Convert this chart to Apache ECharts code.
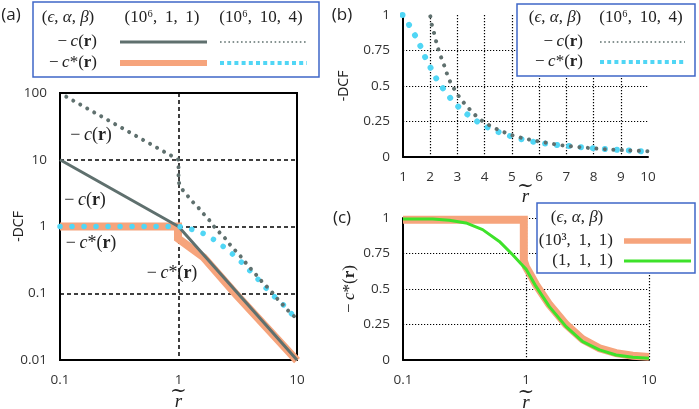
<!DOCTYPE html>
<html><head><meta charset="utf-8">
<script src="https://cdn.jsdelivr.net/npm/echarts@6/dist/echarts.min.js"></script>
<style>html,body{margin:0;padding:0;background:#fff}#c{width:699px;height:409px}</style>
</head><body><div id="c"></div>
<script>
// ---------- DATA ----------
// panel (a) (log-log), (ε,α,β) = (10^6,1,1)
const cSolid = [[0.1,10],[1,1],[10,0.01]];                       // −c(r)
const cStarOrangeA = [[0.1,1],[0.99,1],[0.99,0.66],[1.63,0.345],[3,0.1],[10,0.0098]]; // −c*(r)
// (ε,α,β) = (10^6,10,4), shared by panels (a) and (b)
const cDotted = [[0.113,88],[0.96,10.4],[1.0,10],[1.0,4.7],[1.06,3.7],[1.19,2.9],[1.31,2.36],[1.47,1.92],[1.62,1.56],[1.83,1.23],
  [2.02,0.97],[2.08,0.91],[2.17,0.854],[2.24,0.795],[2.33,0.736],[2.45,0.678],[2.55,0.624],[2.65,0.565],[2.76,0.518],[2.92,0.466],
  [3.09,0.416],[3.29,0.369],[3.5,0.325],[3.72,0.282],[3.96,0.247],[4.24,0.216],[4.51,0.19],[4.79,0.169],[5.08,0.148],[5.37,0.134],
  [5.66,0.122],[5.96,0.111],[6.3,0.099],[6.6,0.089],[6.92,0.08],[7.23,0.074],[7.56,0.068],[7.87,0.063],[8.18,0.058],[8.49,0.054],
  [8.82,0.051],[9.13,0.048],[9.45,0.045],[9.74,0.043],[10,0.041]];
const cStarDotted = [[0.1,1],[1.0,1],[1.04,0.993],[1.25,0.922],[1.47,0.847],[1.68,0.765],[1.86,0.682],[2.08,0.605],[2.29,0.529],
  [2.58,0.454],[2.85,0.388],[3.19,0.325],[3.56,0.271],[3.93,0.225],[4.34,0.188],[4.77,0.157],[5.22,0.131],[5.69,0.111],[6.15,0.096],
  [6.6,0.086],[7.03,0.078],[7.5,0.07],[7.97,0.062],[8.44,0.056],[8.92,0.05],[9.39,0.045],[9.84,0.039],[10,0.037]];
// panel (c)
const cStarC1 = [[0.1,0.988],[0.96,0.988],[0.96,0.7],[1.0,0.655],[1.065,0.615],[1.206,0.53],[1.549,0.39],[2.117,0.25],
  [2.893,0.145],[3.954,0.083],[5.4,0.048],[7.38,0.03],[10,0.022]];   // (10^3,1,1)
const cStarC2 = [[0.1,0.993],[0.174,0.993],[0.238,0.984],[0.325,0.965],[0.444,0.918],[0.607,0.835],[0.779,0.741],[0.91,0.678],
  [1,0.64],[1.206,0.518],[1.549,0.376],[2.117,0.235],[2.893,0.129],[3.954,0.071],[5.4,0.035],[7.38,0.019],[10,0.012]]; // (1,1,1)
// tick labels
const aXTicks = ['0.1','1','10'];
const aYTicks = ['0.01','0.1','1','10','100'];
const bXTicks = ['1','2','3','4','5','6','7','8','9','10'];
const bcYTicks = ['0','0.25','0.5','0.75','1'];
const cXTicks = ['0.1','1','10'];

// ---------- STYLE ----------
const GRAY='#5f706e', ORANGE='#f6a47c', CYAN='#50d6f5', GREEN='#3ee22a', BLUE='#3f67c8';
const SERIF='"Liberation Serif","DejaVu Serif",serif';
const SANS='"Open Sans","Liberation Sans",sans-serif';
const TXT='#222';
function rich(fs, key){
  const k = key||'fill';
  const o = (extra)=>Object.assign({fontFamily:SERIF,fontSize:fs,[k]:TXT}, extra);
  return {n:o({}), i:o({fontStyle:'italic'}), b:o({fontWeight:'bold'}), s:o({fontSize:Math.round(fs*0.75)})};
}
const lab = arr => (v => { let best=''; let d=1e9; arr.forEach(t=>{const x=parseFloat(t); const dd=Math.abs(Math.log(x)-Math.log(v)); if(dd<d){d=dd;best=t;}}); return best;});
const labLin = arr => (v => { let best=''; let d=1e9; arr.forEach(t=>{const dd=Math.abs(parseFloat(t)-v); if(dd<d){d=dd;best=t;}}); return best;});
const axisLabel = (fmt)=>({color:'#333',fontFamily:SANS,fontSize:13.5,margin:13,formatter:fmt});
const blackLine = {show:true,onZero:false,lineStyle:{color:'#000',width:2}};
const xName = {name:'{t|~}\n{r|r}', nameLocation:'middle', nameGap:22, nameMoveOverlap:false,
  nameTextStyle:{rich:{t:{fontFamily:'"DejaVu Serif",serif',fontSize:20,lineHeight:6,color:TXT},
                       r:{fontFamily:SERIF,fontStyle:'italic',fontSize:19,lineHeight:13,color:TXT}}}};

const chart = echarts.init(document.getElementById('c'));
const cS = '{n|−\u2009}{i|c}{n|(}{b|r}{n|)}';
const cStar = '{n|−\u2009}{i|c}{n|*(}{b|r}{n|)}';
const eab = '{n|(}{i|ϵ}{n|, }{i|α}{n|, }{i|β}{n|)}';
const sp = ', \u2009';

function txt(x,y,text,align,fs){
  return {type:'text',x:x,y:y,z:100,style:{text:text,rich:rich(fs||17),align:align||'center',verticalAlign:'middle',
    textAlign:align||'center',textVerticalAlign:'middle',fill:TXT,font:(fs||17)+'px '+SERIF}};
}
function plain(x,y,text){
  return {type:'text',x:x,y:y,z:100,style:{text:text,align:'center',verticalAlign:'middle',textAlign:'center',
    textVerticalAlign:'middle',fill:TXT,font:'17px '+SANS}};
}
function seg(x1,x2,y,color,w,dash,cap){
  return {type:'line',z:100,shape:{x1:x1,y1:y,x2:x2,y2:y},style:{stroke:color,lineWidth:w,lineDash:dash||null,lineCap:cap||'butt'}};
}
function box(x,y,w,h){
  return {type:'rect',z:99,shape:{x:x,y:y,width:w,height:h},style:{fill:'#fff',stroke:BLUE,lineWidth:1.5}};
}

const graphics = [
  plain(11,15,'(a)'), plain(342,15,'(b)'), plain(342,218,'(c)'),
  // legend (a)
  box(33,2,286,75),
  txt(68,18,eab,'center'), txt(162,18,'{n|(10⁶'+sp+'1'+sp+'1)}','center'), txt(261,18,'{n|(10⁶'+sp+'10'+sp+'4)}','center'),
  txt(97,42,cS,'right'), txt(97,63,cStar,'right'),
  seg(120,207,42,GRAY,3), seg(220,306,42,GRAY,1.6,[1.6,2.6]),
  seg(120,207,63,ORANGE,6), seg(220,307,63,CYAN,4,[4,3.2]),
  // legend (b)
  box(517,4,178,72),
  txt(555,18,eab,'center'), txt(641,18,'{n|(10⁶'+sp+'10'+sp+'4)}','center'),
  txt(583,42,cS,'right'), txt(583,62,cStar,'right'),
  seg(600,685,42,GRAY,1.6,[1.6,2.6]), seg(600,686,62,CYAN,4,[4,3.2]),
  // legend (c)
  box(537,203,158,70),
  txt(577,218,eab,'center'), txt(613,241,'{n|(10³'+sp+'1'+sp+'1)}','right'), txt(613,261,'{n|(1'+sp+'1'+sp+'1)}','right'),
  seg(624,691,241,ORANGE,5.5), seg(624,691,261,GREEN,3),
  // annotations (a)
  txt(91,135,cS,'center',18), txt(85,200,cS,'center',18), txt(91,243,cStar,'center',18), txt(172,273,cStar,'center',18)
];

const gridBase = {containLabel:false, outerBoundsMode:'none'};
chart.setOption({
  animation:false,
  backgroundColor:'#fff',
  grid:[
    Object.assign({left:60,top:93,width:237,height:267,show:true,borderColor:'#000',borderWidth:2},gridBase),
    Object.assign({left:403,top:15,width:245,height:142},gridBase),
    Object.assign({left:403,top:218,width:246,height:142},gridBase)
  ],
  xAxis:[
    Object.assign({gridIndex:0,type:'log',logBase:10,min:0.1,max:10,axisLine:blackLine,axisTick:{show:false},
      axisLabel:axisLabel(lab(aXTicks)),
      splitLine:{show:true,showMinLine:false,showMaxLine:false,lineStyle:{color:'#000',width:1.5,type:[4,3]}}},xName,{nameGap:29}),
    Object.assign({gridIndex:1,type:'value',min:1,max:10,interval:1,axisLine:blackLine,axisTick:{show:false},
      axisLabel:axisLabel(labLin(bXTicks)),
      splitLine:{show:true,showMinLine:false,showMaxLine:false,lineStyle:{color:'#000',width:1.2,type:[1.2,1.8]}}},xName,{nameGap:27}),
    Object.assign({gridIndex:2,type:'log',logBase:10,min:0.1,max:10,axisLine:blackLine,axisTick:{show:false},
      axisLabel:axisLabel(lab(cXTicks)),
      splitLine:{show:true,showMinLine:false,showMaxLine:true,lineStyle:{color:'#000',width:1.2,type:[1.2,1.8]}}},xName,{nameGap:30})
  ],
  yAxis:[
    {gridIndex:0,type:'log',logBase:10,min:0.01,max:100,axisLine:blackLine,axisTick:{show:false},
      axisLabel:axisLabel(lab(aYTicks)),
      splitLine:{show:true,showMinLine:false,showMaxLine:false,lineStyle:{color:'#000',width:1.5,type:[4,3]}},
      name:'-DCF',nameLocation:'middle',nameRotate:90,nameGap:34,nameMoveOverlap:false,nameTextStyle:{fontFamily:SANS,fontSize:14,color:TXT}},
    {gridIndex:1,type:'value',min:0,max:1,interval:0.25,axisLine:blackLine,axisTick:{show:false},
      axisLabel:axisLabel(labLin(bcYTicks)),
      splitLine:{show:true,showMinLine:false,showMaxLine:false,lineStyle:{color:'#000',width:1.2,type:[1.2,1.8]}},
      name:'-DCF',nameLocation:'middle',nameRotate:90,nameGap:52,nameMoveOverlap:false,nameTextStyle:{fontFamily:SANS,fontSize:14,color:TXT}},
    {gridIndex:2,type:'value',min:0,max:1,interval:0.25,axisLine:blackLine,axisTick:{show:false},
      axisLabel:axisLabel(labLin(bcYTicks)),
      splitLine:{show:true,showMinLine:false,showMaxLine:true,lineStyle:{color:'#000',width:1.2,type:[1.2,1.8]}},
      name:cStar,nameLocation:'middle',nameRotate:90,nameGap:45,nameMoveOverlap:false,nameTextStyle:{rich:rich(17,'color')}}
  ],
  series:[
    {type:'line',xAxisIndex:0,yAxisIndex:0,data:cStarOrangeA,symbol:'none',clip:true,lineStyle:{color:ORANGE,width:8,join:'miter'}},
    {type:'line',xAxisIndex:0,yAxisIndex:0,data:cSolid,symbol:'none',clip:true,lineStyle:{color:GRAY,width:3}},
    {type:'line',xAxisIndex:0,yAxisIndex:0,data:cStarDotted,symbol:'none',clip:true,lineStyle:{color:CYAN,width:5.5,type:[0.01,12],cap:'round'}},
    {type:'line',xAxisIndex:0,yAxisIndex:0,data:cDotted,symbol:'none',clip:true,lineStyle:{color:GRAY,width:4,type:[0.01,8],cap:'round'}},
    {type:'line',xAxisIndex:1,yAxisIndex:1,data:cStarDotted,symbol:'none',clip:true,lineStyle:{color:CYAN,width:6,type:[0.01,12],cap:'round'}},
    {type:'line',xAxisIndex:1,yAxisIndex:1,data:cDotted,symbol:'none',clip:true,lineStyle:{color:GRAY,width:4,type:[0.01,8.5],cap:'round'}},
    {type:'line',xAxisIndex:2,yAxisIndex:2,data:cStarC1,symbol:'none',clip:true,lineStyle:{color:ORANGE,width:8,join:'miter'}},
    {type:'line',xAxisIndex:2,yAxisIndex:2,data:cStarC2,symbol:'none',clip:true,lineStyle:{color:GREEN,width:3}}
  ],
  graphic:graphics
});
</script></body></html>
